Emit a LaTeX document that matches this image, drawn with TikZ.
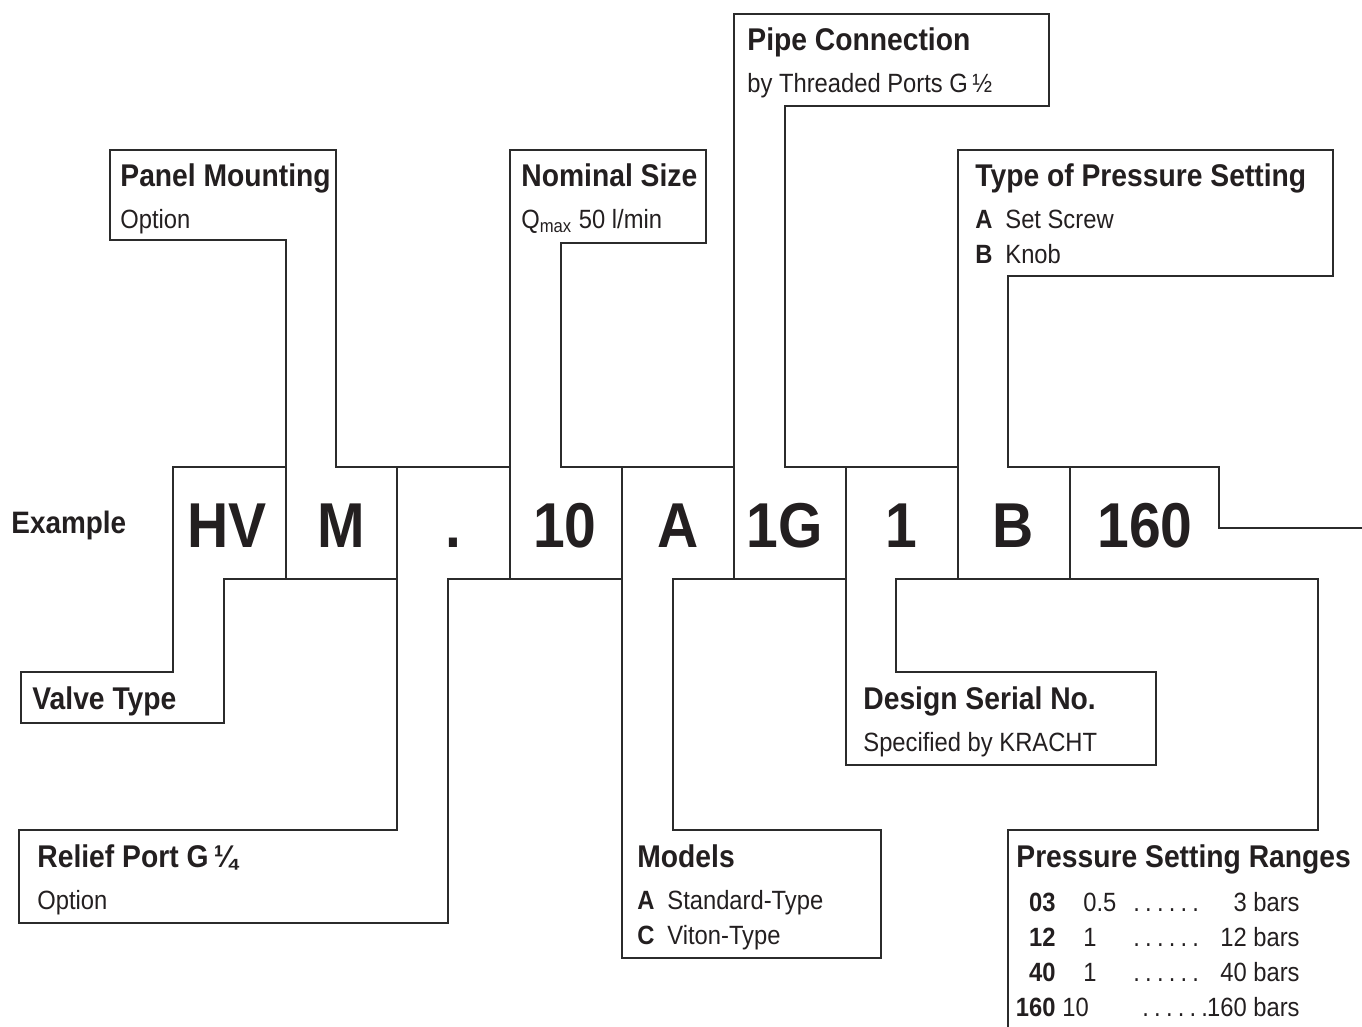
\documentclass[tikz,border=0pt]{standalone}
\usepackage{fontspec}
\setmainfont{Liberation Sans}[FakeStretch=0.9]
\definecolor{kline}{HTML}{2B2B2B}
\definecolor{ktext}{HTML}{231F20}
\newcommand\leaderdots{.\hspace{2.6pt}.\hspace{2.6pt}.\hspace{2.6pt}.\hspace{2.6pt}.\hspace{2.6pt}.}

\begin{document}
\begin{tikzpicture}[x=0.5pt, y=-0.5pt,
    frame/.style={line width=0.75pt, kline},
    ttl/.style={anchor=base west, inner sep=0pt, text=ktext, font=\fontsize{15.7}{18}\selectfont\bfseries},
    txt/.style={anchor=base west, inner sep=0pt, text=ktext, font=\fontsize{13.2}{15}\selectfont},
    txtb/.style={txt, font=\fontsize{13.2}{15}\selectfont\bfseries},
    code/.style={anchor=base, inner sep=0pt, text=ktext, font=\fontsize{31.7}{36}\selectfont\bfseries}]
    \useasboundingbox (0,0) rectangle (1362,1027);

    % Type code row
    \node[ttl, font=\fontsize{15.5}{18}\selectfont\bfseries] (example) at (11,534) {Example};
    \node[code] (hv) at (227,547) {HV};
    \node[code] (m) at (341,547) {M};
    \node[code] (dot) at (453,547) {.};
    \node[code] (size) at (565,547) {10};
    \node[code] (model) at (678,547) {A};
    \node[code] (pipe) at (785,547) {1G};
    \node[code] (serial) at (901,547) {1};
    \node[code] (setting) at (1013,547) {B};
    \node[code] (range) at (1145,547) {160};

    % Callout frames above the row
    \draw[frame] (286,579) -- (286,240) -- (110,240) -- (110,150) -- (336,150) -- (336,467) -- (510,467);
    \draw[frame] (510,579) -- (510,150) -- (706,150) -- (706,243) -- (561,243) -- (561,467) -- (734,467);
    \draw[frame] (734,579) -- (734,14) -- (1049,14) -- (1049,106) -- (785,106) -- (785,467) -- (958,467);
    \draw[frame] (958,579) -- (958,150) -- (1333,150) -- (1333,276) -- (1008,276) -- (1008,467) -- (1219,467) -- (1219,528) -- (1362,528);

    % Callout frames below the row
    \draw[frame] (286,467) -- (173,467) -- (173,672) -- (21,672) -- (21,723) -- (224,723) -- (224,579) -- (397,579);
    \draw[frame] (397,467) -- (397,830) -- (19,830) -- (19,923) -- (448,923) -- (448,579) -- (622,579);
    \draw[frame] (622,467) -- (622,958) -- (881,958) -- (881,830) -- (673,830) -- (673,579) -- (846,579);
    \draw[frame] (846,467) -- (846,765) -- (1156,765) -- (1156,672) -- (896,672) -- (896,579) -- (1318,579) -- (1318,830) -- (1008,830) -- (1008,1027);
    \draw[frame] (1070,467) -- (1070,579);

    % Labels above
    \node[ttl] (pipettl) at (747,51) {Pipe Connection};
    \node[txt] (pipetxt) at (747,93) {by Threaded Ports G\,½};
    \node[ttl] (panelttl) at (120,187) {Panel Mounting};
    \node[txt] (paneltxt) at (120,229) {Option};
    \node[ttl] (sizettl) at (521,187) {Nominal Size};
    \node[txt] (sizetxt) at (521,229) {Q\textsubscript{max} 50 l/min};
    \node[ttl] (setttl) at (975,187) {Type of Pressure Setting};
    \node[txtb] (seta) at (975,229) {A};
    \node[txt] (setatxt) at (1005,229) {Set Screw};
    \node[txtb] (setb) at (975,264) {B};
    \node[txt] (setbtxt) at (1005,264) {Knob};

    % Labels below
    \node[ttl] (valvettl) at (32,709) {Valve Type};
    \node[ttl] (serialttl) at (863,709) {Design Serial No.};
    \node[txt] (serialtxt) at (863,751) {Specified by KRACHT};
    \node[ttl] (reliefttl) at (37,867) {Relief Port G\,¼};
    \node[txt] (relieftxt) at (37,909) {Option};
    \node[ttl] (modelttl) at (637,867) {Models};
    \node[txtb] (moda) at (637,909) {A};
    \node[txt] (modatxt) at (667,909) {Standard-Type};
    \node[txtb] (modc) at (637,944) {C};
    \node[txt] (modctxt) at (667,944) {Viton-Type};
    \node[ttl] (rangettl) at (1016,867) {Pressure Setting Ranges};

    % Pressure ranges table
    \foreach \y/\c/\v/\vx/\dx/\b in {911/03/0.5/1083/1133/3, 946/12/1/1083/1133/12, 981/40/1/1083/1133/40, 1016/160/10/1062/1142/160} {
        \node[txtb, anchor=base east] (c\c) at (1056,\y) {\c};
        \node[txt] (v\c) at (\vx,\y) {\v};
        \node[txt] (d\c) at (\dx,\y) {\leaderdots};
        \node[txt, anchor=base east] (b\c) at (1300,\y) {\b\ bars};
    }
\end{tikzpicture}
\end{document}
